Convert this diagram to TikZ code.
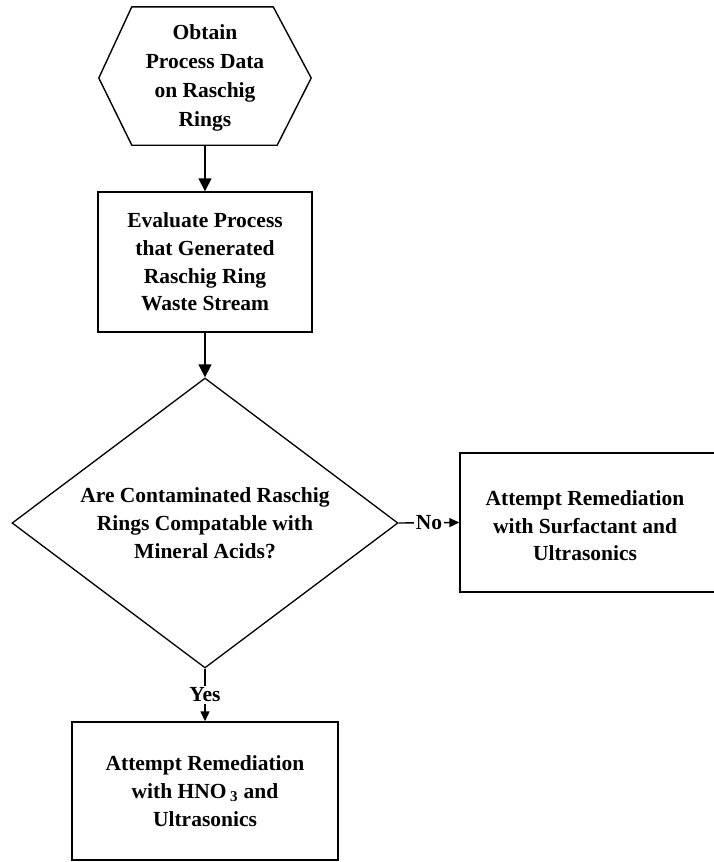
\documentclass[tikz,border=0pt]{standalone}
\usepackage{fontspec}
\setmainfont{Liberation Serif}
\usetikzlibrary{shapes.geometric,arrows.meta,calc}
\begin{document}
\begin{tikzpicture}[x=1pt,y=-1pt,
  txt/.style={font=\bfseries\fontsize{21.5}{27.8}\selectfont, align=center},
  procbox/.style={txt, draw, line width=1.4pt, rectangle, inner sep=0pt},
  decide/.style={txt, draw, line width=1.3pt, diamond, inner sep=0pt, shape aspect=1.33,
                 minimum width=386pt, minimum height=290pt},
  conn/.style={line width=1.4pt, -{Triangle[length=13pt,width=13pt]}},
  connsmall/.style={line width=1.4pt, -{Triangle[length=10pt,width=9pt]}},
  lbl/.style={txt, fill=white, inner sep=1.5pt}
]
\clip (0,0) rectangle (714,862);
\fill[white] (0,0) rectangle (714,862);

% hexagon start node
\node[font=\bfseries\fontsize{21.5}{29}\selectfont, align=center,
      minimum width=212pt, minimum height=134pt, inner sep=0pt] (obtain) at (205,78)
  {Obtain\\Process Data\\on Raschig\\Rings};
\draw[line width=1.4pt, line join=miter]
  (obtain.west) -- ($(obtain.north west)+(33,-4)$) -- ($(obtain.north east)+(-38,-4)$)
  -- (obtain.east) -- ($(obtain.south east)+(-34,0)$) -- ($(obtain.south west)+(33,0)$) -- cycle;

\node[procbox, minimum width=214pt, minimum height=140pt] (eval) at (205,262)
  {Evaluate Process\\that Generated\\Raschig Ring\\Waste Stream};

\node[decide] (q) at (205,523)
  {Are Contaminated Raschig\\Rings Compatable with\\Mineral Acids?};

\node[procbox, minimum width=266pt, minimum height=139pt] (surf) at (593,522.5)
  {\raisebox{-5pt}[\height][\depth]{\begin{tabular}{@{}c@{\hspace{16pt}}}Attempt Remediation\\with Surfactant and\\Ultrasonics\end{tabular}}};

\node[procbox, minimum width=266pt, minimum height=138pt] (hno) at (205,791)
  {Attempt Remediation\\with HNO\,\textsubscript{3} and\\Ultrasonics};

\draw[conn] (obtain.south) -- (eval.north);
\draw[conn] (eval.south) -- (q.north);
\draw[connsmall] (q.east) -- node[lbl] {No} (surf.west);
\draw[connsmall] (q.south) -- node[lbl] {Yes} (hno.north);
\end{tikzpicture}
\end{document}
